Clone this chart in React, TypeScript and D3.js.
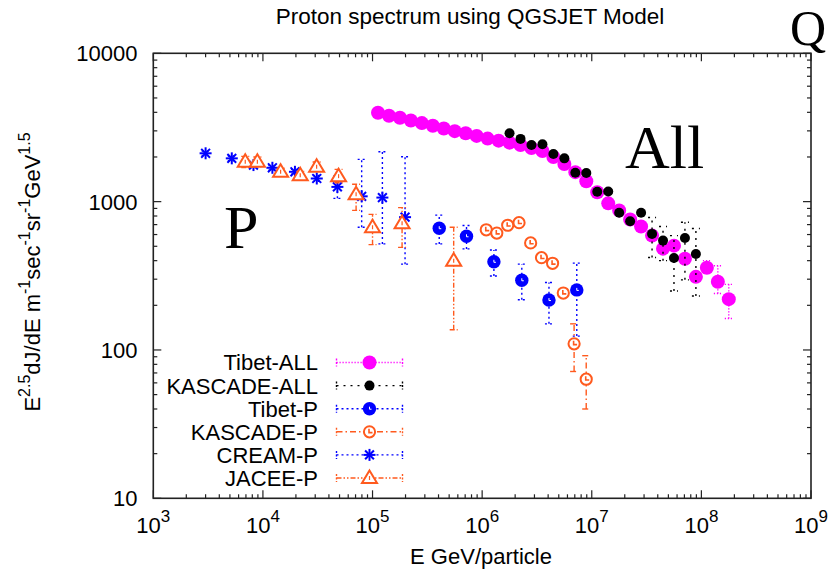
import React from "react";
import * as d3 from "d3";

const W = 832;
const H = 572;
const PL = 153.3, PR = 811, PT = 53.3, PB = 498.3;

// ---------- data (E in GeV, flux E^2.5 dJ/dE) ----------
const tibetAllE = [1.122e5, 1.413e5, 1.778e5, 2.239e5, 2.818e5, 3.548e5, 4.467e5, 5.623e5, 7.079e5, 8.913e5,
  1.122e6, 1.413e6, 1.778e6, 2.239e6, 2.818e6, 3.548e6, 4.467e6, 5.623e6, 7.079e6, 8.913e6,
  1.122e7, 1.413e7, 1.778e7, 2.239e7, 2.818e7, 3.548e7, 4.467e7, 5.623e7, 7.079e7, 8.913e7,
  1.122e8, 1.413e8, 1.778e8];
const tibetAllV = [3977, 3794, 3677, 3525, 3384, 3245, 3111, 2986, 2894, 2775,
  2661, 2578, 2499, 2411, 2300, 2195, 1998, 1792, 1581, 1373,
  1157, 974, 873, 758, 680, 590, 482, 505, 412, 311,
  358, 288, 220];
const tibetAllLo: (number | null)[] = [null, null, null, null, null, null, null, null, null, null,
  null, null, null, null, null, null, null, null, null, null,
  null, null, null, null, null, null, null, null, null, 290,
  330, 240, 163];
const tibetAllHi: (number | null)[] = [null, null, null, null, null, null, null, null, null, null,
  null, null, null, null, null, null, null, null, null, null,
  null, null, null, null, null, null, null, null, null, 335,
  400, 370, 277];

const kascadeAllE = [1.778e6, 2.239e6, 2.818e6, 3.548e6, 4.467e6, 5.623e6, 7.079e6, 8.913e6,
  1.122e7, 1.413e7, 1.778e7, 2.239e7, 2.818e7, 3.548e7, 4.467e7, 5.623e7, 7.079e7, 8.913e7];
const kascadeAllV = [2894, 2649, 2411, 2438, 2095, 1958, 1564, 1560, 1165, 1170, 842, 738, 842, 606, 546, 417, 569, 444];
const kascadeAllLo: (number | null)[] = [null, null, null, null, null, null, null, null, null, null, null, null, null, 420, 400, 250, 297, 231];
const kascadeAllHi: (number | null)[] = [null, null, null, null, null, null, null, null, null, null, null, null, null, 782, 680, 590, 726, 659];

const tibetPE = [4.06e5, 7.2e5, 1.28e6, 2.3e6, 4.07e6, 7.3e6];
const tibetPV = [662, 584, 393, 295, 217, 254];
const tibetPLo = [519, 480, 315, 218, 150, 124];
const tibetPHi = [811, 690, 472, 379, 285, 385];

const kascadePE = [1.09e6, 1.36e6, 1.71e6, 2.17e6, 2.77e6, 3.48e6, 4.39e6, 5.5e6, 6.9e6, 8.9e6];
const kascadePV = [646, 614, 693, 721, 527, 419, 384, 242, 110, 63.5];
const kascadePLo: (number | null)[] = [null, null, null, null, null, null, null, null, 71.6, 40];
const kascadePHi: (number | null)[] = [null, null, null, null, null, null, null, null, 150, 91.5];

const creamPE = [3.0e3, 5.2e3, 8.2e3, 1.22e4, 1.96e4, 3.1e4, 4.78e4, 7.96e4, 1.23e5, 1.98e5];
const creamPV = [2118, 1958, 1764, 1691, 1589, 1432, 1257, 1086, 1065, 786];
const creamPLo = [2050, 1890, 1700, 1630, 1530, 1370, 1052, 672, 519, 379];
const creamPHi = [2190, 2030, 1830, 1750, 1650, 1500, 1488, 1928, 2171, 2008];

const jaceePE = [6.9e3, 8.9e3, 1.45e4, 2.19e4, 3.09e4, 4.9e4, 7.08e4, 1.0e5, 1.86e5, 5.5e5];
const jaceePV = [1857, 1857, 1589, 1508, 1718, 1485, 1121, 672, 716, 400];
const jaceePLo = [1700, 1720, 1500, 1420, 1600, 1340, 873, 513, 492, 137];
const jaceePHi = [2020, 2000, 1680, 1600, 1850, 1650, 1311, 820, 911, 672];

const legendLabels = ["Tibet-ALL", "KASCADE-ALL", "Tibet-P", "KASCADE-P", "CREAM-P", "JACEE-P"];
const xTickExps = [3, 4, 5, 6, 7, 8, 9];
const yTickValues = [10, 100, 1000, 10000];
const yTickLabels = ["10", "100", "1000", "10000"];

const MAGENTA = "#ff00ff";
const BLUE = "#0000ff";
const ORANGE = "#ff5a1e";
const BLACK = "#000000";

type Series = {
  label: string;
  E: number[];
  V: number[];
  lo: (number | null)[];
  hi: (number | null)[];
  color: string;
  dash: string;
  marker: "bigdot" | "dot" | "bluedot" | "ocircle" | "star" | "tri";
};

const series: Series[] = [
  { label: legendLabels[0], E: tibetAllE, V: tibetAllV, lo: tibetAllLo, hi: tibetAllHi, color: MAGENTA, dash: "1.2,1.8", marker: "bigdot" },
  { label: legendLabels[1], E: kascadeAllE, V: kascadeAllV, lo: kascadeAllLo, hi: kascadeAllHi, color: BLACK, dash: "2,5", marker: "dot" },
  { label: legendLabels[2], E: tibetPE, V: tibetPV, lo: tibetPLo, hi: tibetPHi, color: BLUE, dash: "2,3", marker: "bluedot" },
  { label: legendLabels[3], E: kascadePE, V: kascadePV, lo: kascadePLo, hi: kascadePHi, color: ORANGE, dash: "6,3,1.5,3", marker: "ocircle" },
  { label: legendLabels[4], E: creamPE, V: creamPV, lo: creamPLo, hi: creamPHi, color: BLUE, dash: "2,3", marker: "star" },
  { label: legendLabels[5], E: jaceePE, V: jaceePV, lo: jaceePLo, hi: jaceePHi, color: ORANGE, dash: "5,2,1.5,2,1.5,2", marker: "tri" },
];

const x = d3.scaleLog().domain([1e3, 1e9]).range([PL, PR]);
const y = d3.scaleLog().domain([10, 10000]).range([PB, PT]);

function Marker({ kind, cx, cy, color }: { kind: Series["marker"]; cx: number; cy: number; color: string }) {
  switch (kind) {
    case "bigdot":
      return <circle cx={cx} cy={cy} r={7} fill={color} />;
    case "dot":
      return <circle cx={cx} cy={cy} r={5} fill={color} />;
    case "bluedot":
      return (
        <g>
          <circle cx={cx} cy={cy} r={6.7} fill={color} />
          <path d={`M${cx} ${cy - 2}V${cy + 0.5}H${cx + 2}`} stroke="#fff" strokeWidth={1} fill="none" />
        </g>
      );
    case "ocircle":
      return (
        <g>
          <circle cx={cx} cy={cy} r={5.6} fill="#fff" stroke={color} strokeWidth={2} />
          <path d={`M${cx - 0.5} ${cy - 3}V${cy + 0.8}H${cx + 3}`} stroke={color} strokeWidth={1.6} fill="none" />
        </g>
      );
    case "star": {
      const s = 6;
      const d = 4.4;
      return (
        <g stroke={color} strokeWidth={2}>
          <line x1={cx - s} y1={cy} x2={cx + s} y2={cy} />
          <line x1={cx} y1={cy - s} x2={cx} y2={cy + s} />
          <line x1={cx - d} y1={cy - d} x2={cx + d} y2={cy + d} />
          <line x1={cx - d} y1={cy + d} x2={cx + d} y2={cy - d} />
        </g>
      );
    }
    case "tri":
      return (
        <g>
          <path d={`M${cx} ${cy - 7.5}L${cx + 7.5} ${cy + 5}L${cx - 7.5} ${cy + 5}Z`} fill="#fff" stroke={color} strokeWidth={2} />
          <path d={`M${cx} ${cy - 2}V${cy + 2}`} stroke={color} strokeWidth={1.2} />
        </g>
      );
  }
  return null;
}

export default function App() {
  const font = "'Liberation Sans', Arial, Helvetica, sans-serif";
  const serif = "'Liberation Serif', 'Times New Roman', serif";

  const minorX: number[] = [];
  for (let e = 3; e < 9; e++) for (let m = 2; m <= 9; m++) minorX.push(m * Math.pow(10, e));
  const minorY: number[] = [];
  for (let e = 1; e < 4; e++) for (let m = 2; m <= 9; m++) minorY.push(m * Math.pow(10, e));

  const legendY0 = 362.5;
  const legendStep = 23.1;

  return (
    <svg width={W} height={H} style={{ position: "absolute", left: 0, top: 0, background: "#fff" }} fontFamily={font}>
      <rect x={0} y={0} width={W} height={H} fill="#fff" />
      {/* title */}
      <text x={470} y={24} textAnchor="middle" fontSize={22.5} fill="#000">Proton spectrum using QGSJET Model</text>
      <text x={790} y={45} fontSize={50} fontFamily={serif} fill="#000">Q</text>

      {/* ticks */}
      <g stroke="#222" strokeWidth={1.2}>
        {xTickExps.map((e) => {
          const xx = x(Math.pow(10, e));
          return (
            <g key={"xt" + e}>
              <line x1={xx} x2={xx} y1={PB} y2={PB - 8} />
              <line x1={xx} x2={xx} y1={PT} y2={PT + 8} />
            </g>
          );
        })}
        {minorX.map((v, i) => {
          const xx = x(v);
          return (
            <g key={"xm" + i}>
              <line x1={xx} x2={xx} y1={PB} y2={PB - 4} />
              <line x1={xx} x2={xx} y1={PT} y2={PT + 4} />
            </g>
          );
        })}
        {yTickValues.map((v) => {
          const yy = y(v);
          return (
            <g key={"yt" + v}>
              <line x1={PL} x2={PL + 8} y1={yy} y2={yy} />
              <line x1={PR} x2={PR - 8} y1={yy} y2={yy} />
            </g>
          );
        })}
        {minorY.map((v, i) => {
          const yy = y(v);
          return (
            <g key={"ym" + i}>
              <line x1={PL} x2={PL + 4} y1={yy} y2={yy} />
              <line x1={PR} x2={PR - 4} y1={yy} y2={yy} />
            </g>
          );
        })}
      </g>

      {/* tick labels */}
      {xTickExps.map((e) => (
        <text key={"xl" + e} x={x(Math.pow(10, e))} y={532.5} textAnchor="middle" fontSize={22} fill="#000">
          <tspan>10</tspan>
          <tspan dy={-11} fontSize={17}>{e}</tspan>
        </text>
      ))}
      {yTickValues.map((v, i) => (
        <text key={"yl" + v} x={137.5} y={y(v)} dy="0.36em" textAnchor="end" fontSize={22} fill="#000">
          {yTickLabels[i]}
        </text>
      ))}

      {/* axis labels */}
      <text x={481} y={564} textAnchor="middle" fontSize={22} fill="#000">E GeV/particle</text>
      <text transform="translate(40,272) rotate(-90)" textAnchor="middle" fontSize={22} fill="#000">
        <tspan>E</tspan>
        <tspan dy={-10} fontSize={16}>2.5</tspan>
        <tspan dy={10}>dJ/dE m</tspan>
        <tspan dy={-10} fontSize={16}>-1</tspan>
        <tspan dy={10}>sec</tspan>
        <tspan dy={-10} fontSize={16}>-1</tspan>
        <tspan dy={10}>sr</tspan>
        <tspan dy={-10} fontSize={16}>-1</tspan>
        <tspan dy={10}>GeV</tspan>
        <tspan dy={-10} fontSize={16}>1.5</tspan>
      </text>

      {/* data */}
      {series.map((s, si) => (
        <g key={"s" + si}>
          {s.E.map((e, i) => {
            const lo = s.lo[i];
            const hi = s.hi[i];
            if (lo == null || hi == null) return null;
            const xx = x(e);
            return (
              <g key={"eb" + i} stroke={s.color} strokeWidth={1.4} strokeDasharray={s.dash} fill="none">
                <line x1={xx} x2={xx} y1={y(lo)} y2={y(hi)} />
                <line x1={xx - 4} x2={xx + 4} y1={y(lo)} y2={y(lo)} />
                <line x1={xx - 4} x2={xx + 4} y1={y(hi)} y2={y(hi)} />
              </g>
            );
          })}
          {s.E.map((e, i) => (
            <Marker key={"m" + i} kind={s.marker} cx={x(e)} cy={y(s.V[i])} color={s.color} />
          ))}
        </g>
      ))}

      {/* annotations */}
      <text x={224} y={248} fontSize={62} fontFamily={serif} fill="#000">P</text>
      <text x={625} y={168} fontSize={62} fontFamily={serif} fill="#000">All</text>

      {/* legend */}
      {series.map((s, i) => {
        const ly = legendY0 + i * legendStep;
        return (
          <g key={"lg" + i}>
            <text x={318} y={ly} dy="0.36em" textAnchor="end" fontSize={22} fill="#000">{s.label}</text>
            <g stroke={s.color} strokeWidth={1.4} strokeDasharray={s.dash} fill="none">
              <line x1={336.5} x2={402.5} y1={ly} y2={ly} />
            </g>
            <g stroke={s.color} strokeWidth={1.4}>
              <line x1={336.5} x2={336.5} y1={ly - 4} y2={ly + 4} strokeDasharray="2,1.5" />
              <line x1={402.5} x2={402.5} y1={ly - 4} y2={ly + 4} strokeDasharray="2,1.5" />
            </g>
            <Marker kind={s.marker} cx={369.5} cy={ly} color={s.color} />
          </g>
        );
      })}

      {/* frame */}
      <rect x={PL} y={PT} width={PR - PL} height={PB - PT} fill="none" stroke="#222" strokeWidth={1.6} />
    </svg>
  );
}
